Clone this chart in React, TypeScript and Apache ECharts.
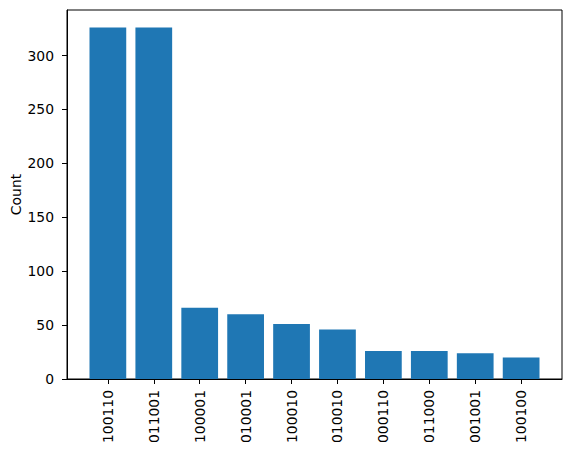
import { useEffect, useRef } from "react";
import * as echarts from "echarts";

const categories = ["100110", "011001", "100001", "010001", "100010", "010010", "000110", "011000", "001001", "100100"];
const counts = [326, 326, 66, 60, 51, 46, 26, 26, 24, 20];
const yTicks = [0, 50, 100, 150, 200, 250, 300];

const FONT = "DejaVu Sans";
const BAR_HALF = 0.4;
const X_MIN = -0.89;
const X_MAX = 9.89;

export default function App() {
  const ref = useRef<HTMLDivElement>(null);

  useEffect(() => {
    if (!ref.current) return;
    const chart = echarts.init(ref.current, null, { renderer: "svg" });
    const xTicks = categories.map((_, i) => i);

    chart.setOption({
      animation: false,
      backgroundColor: "#ffffff",
      grid: {
        left: 67, right: 10, top: 10, bottom: 74,
        outerBoundsMode: "none",
        show: true, borderColor: "#000", borderWidth: 1, backgroundColor: "transparent",
      },
      xAxis: {
        type: "value",
        min: X_MIN,
        max: X_MAX,
        splitLine: { show: false },
        axisLine: { show: true, onZero: false, lineStyle: { color: "#000", width: 1 } },
        axisTick: { show: true, customValues: xTicks, length: 5, lineStyle: { color: "#000" } },
        axisLabel: {
          customValues: xTicks,
          rotate: 90,
          margin: 11,
          color: "#000",
          fontFamily: FONT,
          fontSize: 13.9,
          formatter: (v: number) => categories[Math.round(v)] ?? "",
        },
      },
      yAxis: {
        type: "value",
        min: 0,
        max: 342.3,
        name: "Count",
        nameLocation: "middle",
        nameRotate: 90,
        nameGap: 44,
        nameMoveOverlap: false,
        nameTextStyle: { color: "#000", fontFamily: FONT, fontSize: 13.9 },
        splitLine: { show: false },
        axisLine: { show: true, onZero: false, lineStyle: { color: "#000", width: 1 } },
        axisTick: { show: true, customValues: yTicks, length: 5, lineStyle: { color: "#000" } },
        axisLabel: {
          customValues: yTicks,
          margin: 13,
          color: "#000",
          fontFamily: FONT,
          fontSize: 13.9,
        },
      },
      series: [
        {
          type: "custom",
          data: counts.map((c, i) => [i, c]),
          renderItem: (_params: any, api: any) => {
            const x = api.value(0);
            const y = api.value(1);
            const topLeft = api.coord([x - BAR_HALF, y]);
            const bottomRight = api.coord([x + BAR_HALF, 0]);
            return {
              type: "rect",
              shape: {
                x: topLeft[0],
                y: topLeft[1],
                width: bottomRight[0] - topLeft[0],
                height: bottomRight[1] - topLeft[1],
              },
              style: { fill: "#1f77b4" },
            };
          },
        },
      ],
    });

    return () => chart.dispose();
  }, []);

  return (
    <div
      ref={ref}
      style={{ position: "absolute", left: 0, top: 0, width: 572, height: 453 }}
    />
  );
}
